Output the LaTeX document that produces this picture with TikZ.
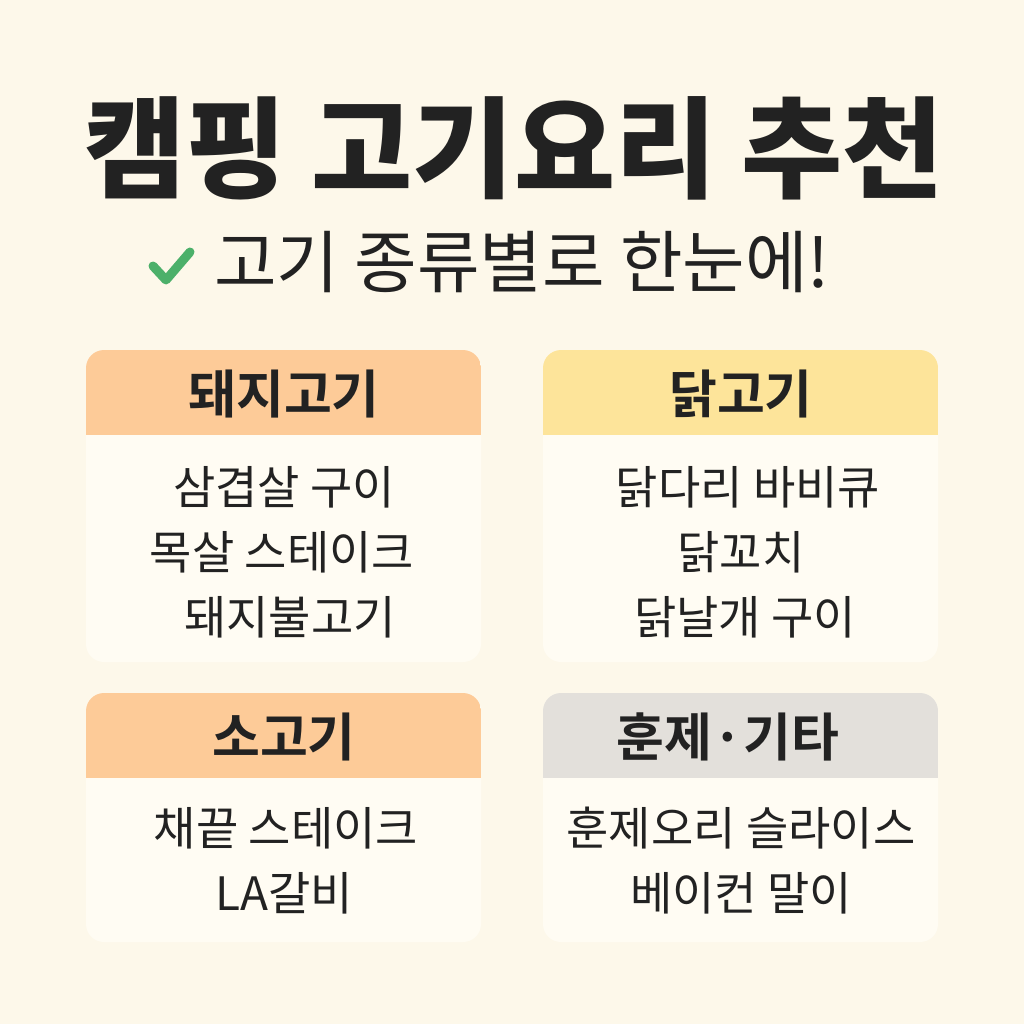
\documentclass[tikz,border=0pt]{standalone}
\usepackage{fontspec}
\newfontfamily\kr{Noto Sans CJK KR}
\newfontfamily\krb{Noto Sans CJK KR Bold}
\newfontfamily\krblack{Noto Sans CJK KR Black}
\definecolor{bg}{HTML}{FDF8EA}
\definecolor{card}{HTML}{FFFCF3}
\definecolor{hor}{HTML}{FDCB98}
\definecolor{hye}{HTML}{FDE49A}
\definecolor{hgr}{HTML}{E3E0DB}
\definecolor{ink}{HTML}{222222}
\definecolor{chk}{HTML}{4CB06A}
\tikzset{
 itemtxt/.style={font=\kr\fontsize{46}{54}\selectfont, text=ink, anchor=center, inner sep=0},
 headtxt/.style={font=\krb\fontsize{52}{60}\selectfont, text=ink, anchor=center, inner sep=0},
}
\newcommand{\mycard}[6]{% x1 y1top x2 y2bottom headerbottom color
 \fill[card,rounded corners=18pt] (#1pt,-#2pt) rectangle (#3pt,-#4pt);
 \begin{scope}
 \clip[rounded corners=18pt] (#1pt,-#2pt) rectangle (#3pt,-#4pt);
 \fill[#6] (#1pt,-#2pt) rectangle (#3pt,-#5pt);
 \end{scope}}
\begin{document}
\begin{tikzpicture}[x=1pt,y=1pt]
\fill[bg] (0,0) rectangle (1024,-1024);
\useasboundingbox (0,0) rectangle (1024,-1024);
\node[font=\krblack\fontsize{110}{120}\selectfont, text=ink, inner sep=0] (title) at (514,-148) {캠핑 고기요리 추천};
\node[font=\kr\fontsize{68}{78}\selectfont, text=ink, inner sep=0] (sub) at (522,-262) {고기 종류별로 한눈에!};
\draw[chk, line width=9pt, line cap=round, line join=round] (153,-266) -- (166,-280) -- (190,-252);
\mycard{86}{350}{481}{662}{435}{hor}
\mycard{543}{350}{938}{662}{435}{hye}
\mycard{86}{693}{481}{942}{778}{hor}
\mycard{543}{693}{938}{942}{778}{hgr}
\node[headtxt] (h1) at (284,-394) {돼지고기};
\node[headtxt] (h2) at (741,-394) {닭고기};
\node[headtxt] (h3) at (284,-737) {소고기};
\node[headtxt] (h4) at (728,-737) {훈제·기타};
\node[itemtxt] (a1) at (284,-487) {삼겹살 구이};
\node[itemtxt] (a2) at (282,-552) {목살 스테이크};
\node[itemtxt] (a3) at (290,-617) {돼지불고기};
\node[itemtxt] (b1) at (748,-487) {닭다리 바비큐};
\node[itemtxt] (b2) at (741,-552) {닭꼬치};
\node[itemtxt] (b3) at (745,-617) {닭날개 구이};
\node[itemtxt] (c1) at (286,-828) {채끝 스테이크};
\node[itemtxt] (c2) at (284,-893) {LA갈비};
\node[itemtxt] (d1) at (741,-828) {훈제오리 슬라이스};
\node[itemtxt] (d2) at (741,-893) {베이컨 말이};
\end{tikzpicture}
\end{document}
